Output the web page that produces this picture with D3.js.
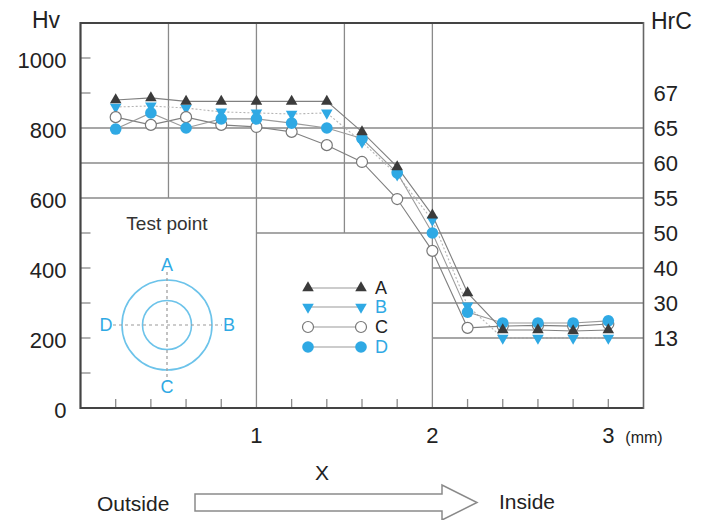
<!DOCTYPE html>
<html><head><meta charset="utf-8">
<script src="https://cdn.jsdelivr.net/npm/d3@7/dist/d3.min.js"></script>
<style>
html,body{margin:0;padding:0;background:#fff;}
svg{display:block;font-family:"Liberation Sans",Arial,Helvetica,sans-serif;}
</style></head>
<body><svg id="chart" width="709" height="520"></svg>
<script>
// ---- data ----
const depths = [0.2,0.4,0.6,0.8,1.0,1.2,1.4,1.6,1.8,2.0,2.2,2.4,2.6,2.8,3.0];
const seriesA = [880,886,876,876,876,876,876,789,689,551,329,223,223,220,223];
const seriesB = [860,863,857,846,843,840,843,760,666,537,292,200,200,200,200];
const seriesC = [831,809,831,809,803,789,751,703,597,449,229,234,236,234,240];
const seriesD = [797,843,800,826,826,814,800,770,672,500,274,243,243,243,249];
const seriesNames = ["A","B","C","D"];
const hvTicks = [0,200,400,600,800,1000];
const hvMinorTicks = [100,200,300,400,500,900,1000];
const hrcLabels = ["67","65","60","55","50","40","30","13"];
const hrcAtHv = [900,800,700,600,500,400,300,200];
const xTicks = [1,2,3];
const testPoints = ["A","B","C","D"];

// ---- setup ----
const svg = d3.select("#chart");
const x = d3.scaleLinear().domain([0,3.2]).range([80.5,643.5]);
const y = d3.scaleLinear().domain([0,1100]).range([408,23]);
const BLUE = "#2fa9e4", DARK = "#3b3b3b", GRID = "#8a8a8a";

// grid segments (in data units)
const hGrid = [[800,0,3.2],[700,0,3.2],[600,0,3.2],[500,1,3.2],[400,2,3.2],[300,2,3.2],[200,2,3.2]];
const vGrid = [[0.5,600,1100],[1,0,1100],[1.5,500,1100],[2,0,1100]];
const g = svg.append("g");
g.selectAll("line.h").data(hGrid).join("line")
  .attr("x1",d=>x(d[1])).attr("x2",d=>x(d[2])).attr("y1",d=>y(d[0])).attr("y2",d=>y(d[0]))
  .attr("stroke",GRID).attr("stroke-width",1.3);
g.selectAll("line.v").data(vGrid).join("line")
  .attr("x1",d=>x(d[0])).attr("x2",d=>x(d[0])).attr("y1",d=>y(d[1])).attr("y2",d=>y(d[2]))
  .attr("stroke",GRID).attr("stroke-width",1.3);

// minor ticks left (inside)
g.selectAll("line.lt").data(hvMinorTicks).join("line")
  .attr("x1",x(0)).attr("x2",x(0)+10).attr("y1",d=>y(d)).attr("y2",d=>y(d))
  .attr("stroke",GRID).attr("stroke-width",1.3);
// bottom ticks (inside)
g.selectAll("line.bt").data(depths.filter(d=>Math.abs(d-1)>1e-6 && Math.abs(d-2)>1e-6)).join("line")
  .attr("x1",d=>x(d)).attr("x2",d=>x(d)).attr("y1",y(0)).attr("y2",y(0)-9)
  .attr("stroke",GRID).attr("stroke-width",1.3);

// frame
svg.append("line").attr("x1",x(0)).attr("x2",x(3.2)).attr("y1",y(1100)).attr("y2",y(1100)).attr("stroke","#444").attr("stroke-width",2);
svg.append("line").attr("x1",x(0)).attr("x2",x(3.2)).attr("y1",y(0)).attr("y2",y(0)).attr("stroke","#444").attr("stroke-width",2.2);
svg.append("line").attr("x1",x(0)).attr("x2",x(0)).attr("y1",y(1100)-1).attr("y2",y(0)+1).attr("stroke","#444").attr("stroke-width",2.2);
svg.append("line").attr("x1",x(3.2)).attr("x2",x(3.2)).attr("y1",y(1100)-1).attr("y2",y(0)+1).attr("stroke","#666").attr("stroke-width",1.6);

// left axis labels
const ax = svg.append("g").attr("transform",`translate(${x(0)},0)`)
  .call(d3.axisLeft(y).tickValues(hvTicks).tickFormat(d3.format("d")).tickSize(0).tickPadding(14));
ax.select(".domain").remove();
ax.selectAll("text").attr("font-size",22).attr("fill","#222").attr("dy","0.45em").style("font-family","Liberation Sans, Arial, sans-serif");

// right axis labels (HrC)
const yR = d3.scaleOrdinal().domain(hrcLabels).range(hrcAtHv.map(v=>y(v)));
svg.append("g").selectAll("text").data(hrcLabels).join("text")
  .attr("x",x(3.2)+10).attr("y",d=>yR(d)).attr("dy","0.38em")
  .attr("font-size",22).attr("fill","#222").text(d=>d);

// axis titles
svg.append("text").attr("x",32).attr("y",28).attr("font-size",23).attr("fill","#222").text("Hv");
svg.append("text").attr("x",651).attr("y",29).attr("font-size",23).attr("fill","#222").text("HrC");

// bottom labels
svg.append("g").selectAll("text").data(xTicks).join("text")
  .attr("x",d=>x(d)).attr("y",443).attr("text-anchor","middle")
  .attr("font-size",22).attr("fill","#222").text(d=>d);
svg.append("text").attr("x",x(3)+17).attr("y",443).attr("font-size",16).attr("fill","#222").text("(mm)");
svg.append("text").attr("x",322).attr("y",480).attr("text-anchor","middle").attr("font-size",21).attr("fill","#222").text("X");
svg.append("text").attr("x",97).attr("y",511).attr("font-size",21).attr("fill","#222").text("Outside");
svg.append("text").attr("x",499).attr("y",509).attr("font-size",21).attr("fill","#222").text("Inside");
svg.append("path")
  .attr("d","M195,494 L442,494 L442,485 L477,502.5 L442,520 L442,511 L195,511 Z")
  .attr("fill","#fff").attr("stroke","#8a8a8a").attr("stroke-width",1.5);

// Test point diagram
const tp = svg.append("g").attr("transform","translate(167,325)");
svg.append("text").attr("x",167).attr("y",230).attr("text-anchor","middle").attr("font-size",19).attr("fill","#333").text("Test point");
tp.append("circle").attr("r",45).attr("fill","none").attr("stroke","#6cc3ea").attr("stroke-width",1.6);
tp.append("circle").attr("r",24.5).attr("fill","none").attr("stroke","#6cc3ea").attr("stroke-width",1.6);
tp.append("line").attr("x1",0).attr("x2",0).attr("y1",-53).attr("y2",57).attr("stroke","#999").attr("stroke-dasharray","3,3").attr("stroke-width",1.2);
tp.append("line").attr("x1",-54).attr("x2",55).attr("y1",0).attr("y2",0).attr("stroke","#999").attr("stroke-dasharray","3,3").attr("stroke-width",1.2);
const tpPos = {A:[0,-60],B:[62,0],C:[0,62],D:[-61,0]};
tp.selectAll("text").data(testPoints).join("text")
  .attr("x",d=>tpPos[d][0]).attr("y",d=>tpPos[d][1]).attr("dy","0.36em")
  .attr("text-anchor","middle").attr("font-size",18).attr("fill",BLUE).text(d=>d);

// series
const all = {A:seriesA,B:seriesB,C:seriesC,D:seriesD};
const line = d3.line().x((d,i)=>x(depths[i])).y(d=>y(d));
const lineStyle = {
  A:{stroke:"#808080",dash:null},
  B:{stroke:"#b5b5b5",dash:"2,2"},
  C:{stroke:"#808080",dash:null},
  D:{stroke:"#9a9a9a",dash:null}
};
["B","C","D","A"].forEach(k=>{
  svg.append("path").datum(all[k]).attr("d",line).attr("fill","none")
    .attr("stroke",lineStyle[k].stroke).attr("stroke-width",1.1)
    .attr("stroke-dasharray",lineStyle[k].dash);
});
const triUp = d3.symbol().type(d3.symbolTriangle).size(58);
function drawMarker(sel,k){
  if(k==="A"){
    sel.append("path").attr("d",triUp()).attr("fill",DARK);
  } else if(k==="B"){
    sel.append("path").attr("d",triUp()).attr("transform","rotate(180)").attr("fill",BLUE);
  } else if(k==="C"){
    sel.append("circle").attr("r",5.5).attr("fill","#fff").attr("stroke","#777").attr("stroke-width",1.2);
  } else {
    sel.append("circle").attr("r",5.8).attr("fill",BLUE);
  }
}
["B","C","D","A"].forEach(k=>{
  all[k].forEach((v,i)=>{
    const m = svg.append("g").attr("transform",`translate(${x(depths[i])},${y(v)})`);
    drawMarker(m,k);
  });
});

// legend
const legY = {A:288,B:307,C:327,D:347};
const legColor = {A:"#222",B:BLUE,C:"#222",D:BLUE};
seriesNames.forEach(k=>{
  const yy = legY[k];
  svg.append("line").attr("x1",308).attr("x2",361).attr("y1",yy).attr("y2",yy)
    .attr("stroke","#999").attr("stroke-width",1.1);
  [308,361].forEach(xx=>{
    const m = svg.append("g").attr("transform",`translate(${xx},${yy})`);
    drawMarker(m,k);
  });
  svg.append("text").attr("x",375).attr("y",yy).attr("dy","0.36em")
    .attr("font-size",18).attr("fill",legColor[k]).text(k);
});
</script></body></html>
